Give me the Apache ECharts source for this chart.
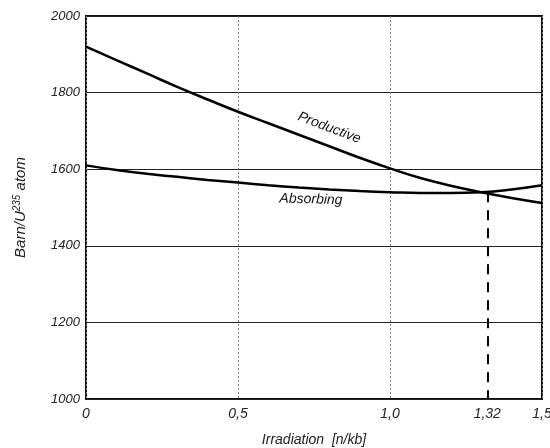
<!DOCTYPE html>
<html>
<head>
<meta charset="utf-8">
<script src="https://cdn.jsdelivr.net/npm/echarts@6/dist/echarts.min.js"></script>
<style>
  html, body { margin: 0; padding: 0; background: #fff; }
  #main { width: 550px; height: 448px; }
</style>
</head>
<body>
<div id="main"></div>
<script>
var irradiation = [0, 0.1, 0.2, 0.3, 0.4, 0.5, 0.6, 0.7, 0.8, 0.9, 1.0, 1.1, 1.2, 1.3, 1.4, 1.5];
var productive = [1920, 1885, 1850, 1815, 1782, 1750, 1720, 1690, 1660, 1630, 1602, 1577, 1557, 1540, 1525, 1512];
var absorbing = [1610, 1598, 1588, 1580, 1572, 1565, 1558, 1552, 1547, 1543, 1540, 1538, 1538, 1540, 1547, 1558];
var xTickLabels = [0, 0.5, 1.0, 1.32, 1.5];
var crossing = [1.32, 1540];

var dom = document.getElementById('main');
var myChart = echarts.init(dom, null, { renderer: 'canvas' });

function pairs(xs, ys) {
  return xs.map(function (x, i) { return [x, ys[i]]; });
}

var font = 'Liberation Sans';

var option = {
  animation: false,
  backgroundColor: '#fff',
  grid: {
    left: 86, right: 8, top: 16, bottom: 49,
    outerBoundsMode: 'none',
    containLabel: false,
    show: true, borderColor: '#111', borderWidth: 2
  },
  xAxis: {
    type: 'value',
    min: 0, max: 1.5, interval: 0.5,
    name: 'Irradiation  [n/kb]',
    nameLocation: 'middle',
    nameGap: 34,
    nameTextStyle: { fontFamily: font, fontStyle: 'italic', fontSize: 14, color: '#222' },
    axisLine: { show: false },
    axisTick: { show: false },
    axisLabel: {
      customValues: xTickLabels,
      fontFamily: font, fontStyle: 'italic', fontSize: 14, color: '#222', margin: 8,
      formatter: function (v) {
        if (v === 0) return '0';
        return (v % 1 === 0 ? v.toFixed(1) : String(v)).replace('.', ',');
      }
    },
    splitLine: { show: true, lineStyle: { color: '#777', width: 1, type: [2, 2] } }
  },
  yAxis: {
    type: 'value',
    min: 1000, max: 2000, interval: 200,
    name: '{n|Barn/U}{s|235}{n| atom}',
    nameLocation: 'middle',
    nameGap: 56,
    nameTextStyle: {
      rich: {
        n: { fontFamily: font, fontStyle: 'italic', fontSize: 15, color: '#222' },
        s: { fontFamily: font, fontStyle: 'italic', fontSize: 10, color: '#222', verticalAlign: 'top', padding: [0, 0, 8, 0] }
      }
    },
    axisLine: { show: false },
    axisTick: { show: false },
    axisLabel: {
      fontFamily: font, fontStyle: 'italic', fontSize: 13, color: '#222', margin: 6,
      formatter: function (v) { return String(v); }
    },
    splitLine: { show: true, lineStyle: { color: '#222', width: 1 } }
  },
  series: [
    {
      name: 'Productive',
      type: 'line',
      smooth: true,
      symbol: 'none',
      data: pairs(irradiation, productive),
      lineStyle: { color: '#000', width: 2.5 }
    },
    {
      name: 'Absorbing',
      type: 'line',
      smooth: true,
      symbol: 'none',
      data: pairs(irradiation, absorbing),
      lineStyle: { color: '#000', width: 2.5 },
      markLine: {
        silent: true,
        symbol: 'none',
        label: { show: false },
        lineStyle: { color: '#000', width: 2, type: [10, 8] },
        data: [[{ coord: [crossing[0], crossing[1]] }, { coord: [crossing[0], 1000] }]]
      }
    }
  ]
};

myChart.setOption(option);

// curve labels placed in data coordinates
var pLab = myChart.convertToPixel({ gridIndex: 0 }, [0.8, 1708]);
var aLab = myChart.convertToPixel({ gridIndex: 0 }, [0.74, 1521]);
myChart.setOption({
  graphic: [
    {
      type: 'text', x: pLab[0], y: pLab[1], rotation: -0.36,
      style: { text: 'Productive', fontFamily: font, fontStyle: 'italic', fontSize: 14, fill: '#111', align: 'center', verticalAlign: 'middle' }
    },
    {
      type: 'text', x: aLab[0], y: aLab[1], rotation: -0.03,
      style: { text: 'Absorbing', fontFamily: font, fontStyle: 'italic', fontSize: 14, fill: '#111', align: 'center', verticalAlign: 'middle' }
    }
  ]
});

window.addEventListener('resize', myChart.resize);
</script>
</body>
</html>
